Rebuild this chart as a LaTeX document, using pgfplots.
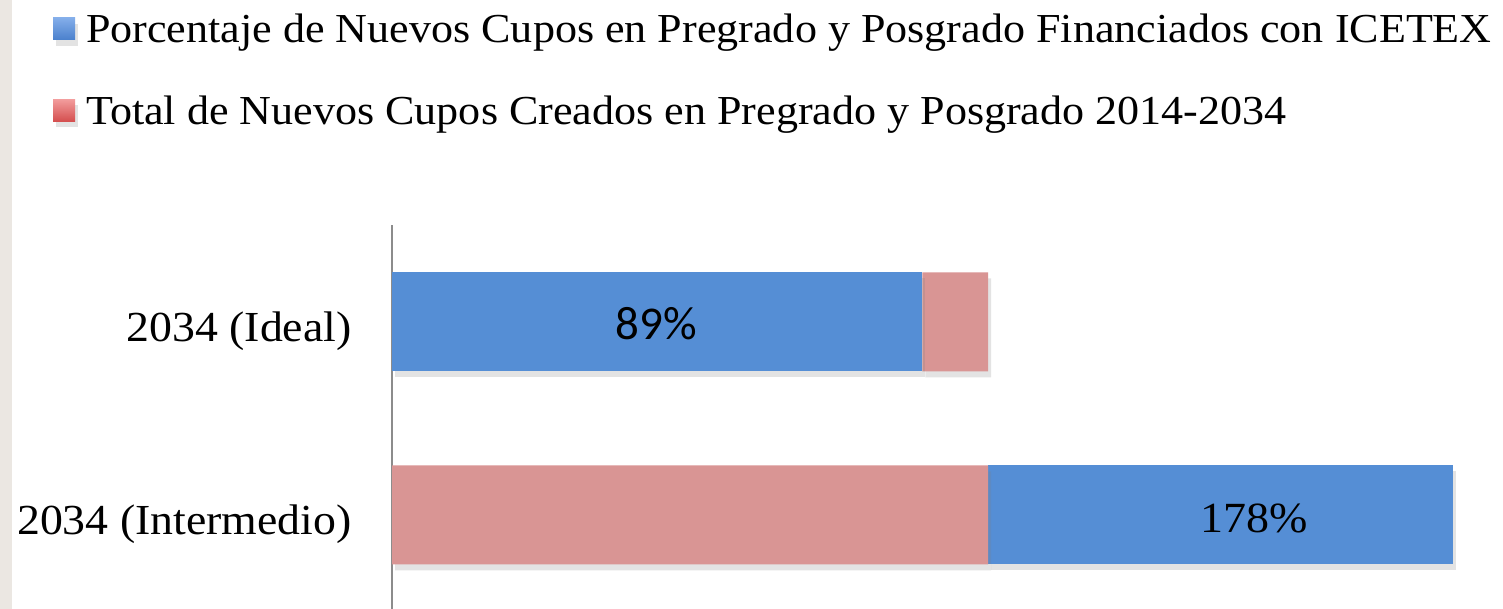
\documentclass[border=0pt]{standalone}
\usepackage{pgfplots}
\pgfplotsset{compat=1.18}
\usepackage{fontspec}
\setmainfont{Liberation Serif}[FakeStretch=1.07]
\newfontfamily\calib{Carlito}
\usetikzlibrary{shadows}
\definecolor{barblue}{HTML}{558ED5}
\definecolor{barpink}{HTML}{D99594}
\definecolor{axgray}{HTML}{8C8C8C}
\definecolor{strip}{HTML}{EBE7E2}
\definecolor{legbluetop}{HTML}{84AEEA}
\definecolor{legbluebot}{HTML}{4A80CC}
\definecolor{legredtop}{HTML}{F29C9C}
\definecolor{legredbot}{HTML}{D44E4E}
\begin{document}
\begin{tikzpicture}
\path[use as bounding box, fill=white] (0,0) rectangle (751.5pt,304.5pt);
\fill[strip] (0,0) rectangle (6pt,304.5pt);
\begin{axis}[
  at={(196pt,47pt)}, anchor=origin,
  x=2.98pt, y=96.5pt,
  xmin=0, xmax=186, ymin=-0.487, ymax=1.503,
  xbar stacked, bar width=49.5pt,
  axis x line=none,
  axis y line*=left,
  axis line style={axgray, line width=1pt},
  ytick={0,1}, yticklabels={2034 (Intermedio),2034 (Ideal)},
  ytick style={draw=none},
  yticklabel style={font=\fontsize{21.4}{25}\selectfont, inner sep=0pt, xshift=-20pt, yshift=-4.5pt},
  clip=false,
  every axis plot/.append style={draw=none, drop shadow={opacity=0.22, shadow xshift=1.5pt, shadow yshift=-3pt}},
  legend style={at={(-0.306,1.55)}, anchor=north west, draw=none, fill=none,
    font=\fontsize{20.6}{24}\selectfont, row sep=25pt, inner sep=0pt,
    nodes={inner sep=0pt}},
  legend cell align=left,
]
\addplot+[forget plot, fill=barblue] coordinates {(0,0) (89,1)};
\addplot+[forget plot, fill=barpink] coordinates {(100,0) (11,1)};
\addplot+[forget plot, fill=barblue] coordinates {(78,0) (0,1)};
\addlegendimage{legend image code/.code={\shade[top color=legbluetop, bottom color=legbluebot] (0pt,-5pt) rectangle (11pt,6pt);}}
\addlegendentry{\hspace{5.5pt}Porcentaje de Nuevos Cupos en Pregrado y Posgrado Financiados con ICETEX}
\addlegendimage{legend image code/.code={\shade[top color=legredtop, bottom color=legredbot] (0pt,-5pt) rectangle (11pt,6pt);}}
\addlegendentry{\hspace{5.5pt}Total de Nuevos Cupos Creados en Pregrado y Posgrado 2014-2034}
\coordinate (lA) at (axis cs:44.3,0.91);
\coordinate (lB) at (axis cs:144.6,-0.09);
\end{axis}
\node[font=\calib\fontsize{23.5}{27}\selectfont, anchor=base] at (lA) {89\%};
\node[font=\fontsize{21.5}{26}\selectfont, anchor=base] at (lB) {178\%};
\end{tikzpicture}
\end{document}
